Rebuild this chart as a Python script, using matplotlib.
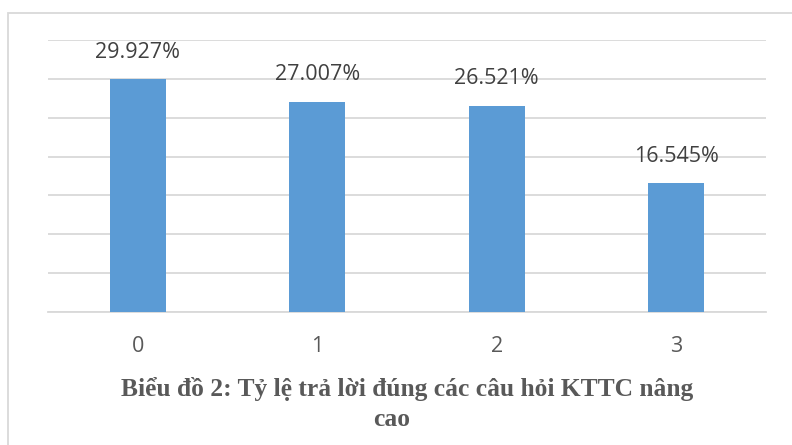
import matplotlib
matplotlib.use("Agg")
import matplotlib.pyplot as plt
from matplotlib.patches import Rectangle

categories = ["0", "1", "2", "3"]
values = [29.927, 27.007, 26.521, 16.545]
value_labels = ["29.927%", "27.007%", "26.521%", "16.545%"]
title_lines = ["Biểu đồ 2: Tỷ lệ trả lời đúng các câu hỏi KTTC nâng", "cao"]

W, H, DPI = 792, 445, 100
fig = plt.figure(figsize=(W / DPI, H / DPI), dpi=DPI)
fig.patch.set_facecolor("white")

# chart frame
fig.patches.append(Rectangle((8 / W, -0.1), 1.2, (H - 13) / H + 0.1,
                             transform=fig.transFigure, fill=False,
                             edgecolor="#d9d9d9", linewidth=1.3))

left, right, top, bottom = 48, 766, 40, 312
ax = fig.add_axes([left / W, 1 - bottom / H, (right - left) / W, (bottom - top) / H])
x = range(len(categories))
ax.bar(x, values, width=0.312, color="#5b9bd5", zorder=3)
ax.set_xlim(-0.5, len(categories) - 0.5)
ax.set_ylim(0, 35)
ax.set_yticks(range(0, 36, 5))
ax.yaxis.grid(True, color="#d9d9d9", linewidth=1.3, zorder=0)
ax.tick_params(axis="y", left=False, labelleft=False)
ax.tick_params(axis="x", bottom=False, pad=14, labelsize=15.5, labelcolor="#595959")
ax.set_xticks(list(x))
ax.set_xticklabels(categories, fontfamily="Open Sans")
for s in ["top", "right", "left"]:
    ax.spines[s].set_visible(False)
ax.spines["bottom"].set_color("#d9d9d9")
ax.spines["bottom"].set_linewidth(1.3)
ax.set_facecolor("none")

for xi, v, lab in zip(x, values, value_labels):
    ax.annotate(lab, (xi, v), xytext=(0, 12), textcoords="offset points",
                ha="center", va="bottom", fontsize=15.5, color="#404040",
                fontfamily="Open Sans")

fig.text(407 / W, 1 - 389 / H, title_lines[0], ha="center", va="center",
         fontsize=18.4, fontweight="bold", color="#595959", fontfamily="Liberation Serif")
fig.text(392 / W, 1 - 420 / H, title_lines[1], ha="center", va="center",
         fontsize=18.4, fontweight="bold", color="#595959", fontfamily="Liberation Serif")

fig.savefig("out.png", dpi=DPI)
